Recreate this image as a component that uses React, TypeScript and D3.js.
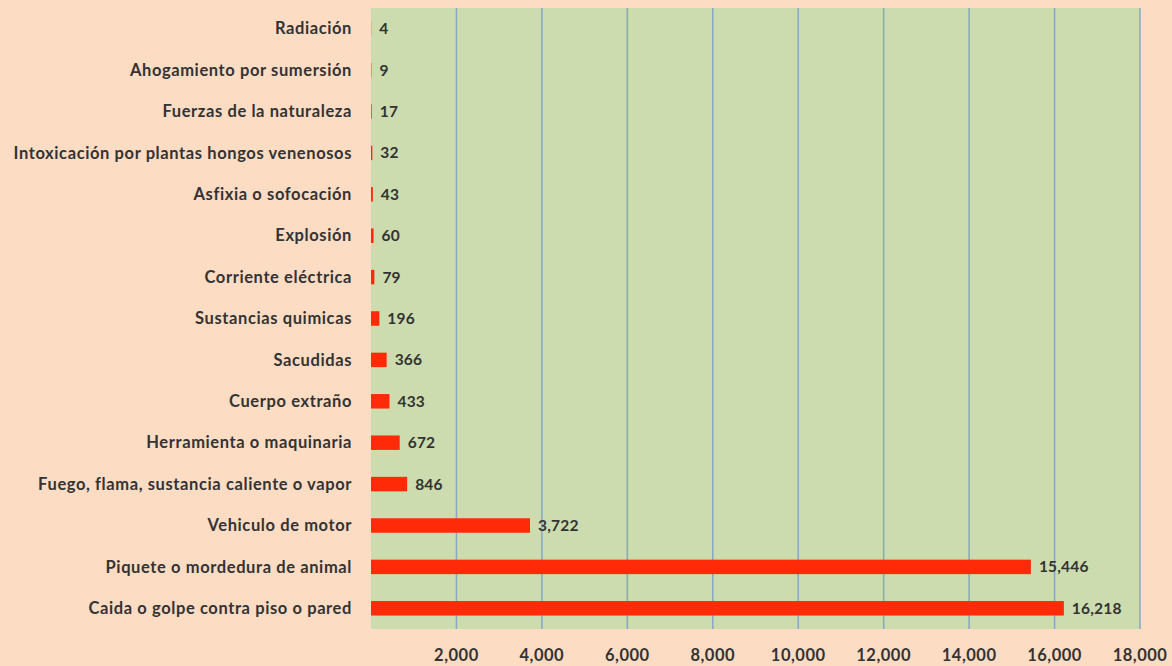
import * as d3 from 'd3';
import React from 'react';

// categories from top to bottom as shown
const categories = [
    'Radiación',
    'Ahogamiento por sumersión',
    'Fuerzas de la naturaleza',
    'Intoxicación por plantas hongos venenosos',
    'Asfixia o sofocación',
    'Explosión',
    'Corriente eléctrica',
    'Sustancias quimicas',
    'Sacudidas',
    'Cuerpo extraño',
    'Herramienta o maquinaria',
    'Fuego, flama, sustancia caliente o vapor',
    'Vehiculo de motor',
    'Piquete o mordedura de animal',
    'Caida o golpe contra piso o pared',
];

const values = [4, 9, 17, 32, 43, 60, 79, 196, 366, 433, 672, 846, 3722, 15446, 16218];

const tickValues = [2000, 4000, 6000, 8000, 10000, 12000, 14000, 16000, 18000];

const W = 1172;
const H = 666;
const margin = { top: 8, right: 32, bottom: 37, left: 371 };
const font = 'Lato, "Open Sans", sans-serif';

const App = () => {
    const x = d3.scaleLinear()
        .domain([0, 18000])
        .range([margin.left, W - margin.right]);
    const y = d3.scaleBand()
        .domain(categories)
        .range([margin.top, H - margin.bottom])
        .paddingInner(0.65)
        .paddingOuter(0.325);
    const fmt = d3.format(',');

    return (
        <svg width={W} height={H} style={{ position: 'absolute', left: 0, top: 0, display: 'block' }}>
            <rect x={0} y={0} width={W} height={H} fill="#fddcc4" />
            <rect x={x(0)} y={margin.top} width={x(18000) - x(0)} height={H - margin.bottom - margin.top} fill="#ccdcae" />
            {tickValues.map((t) => (
                <g key={t}>
                    <line x1={x(t)} x2={x(t)} y1={margin.top} y2={H - margin.bottom} stroke="#86a8c6" strokeWidth={1.5} />
                    <text x={x(t)} y={H - 5} textAnchor="middle" fontFamily={font} fontWeight="bold" fontSize={16.5} letterSpacing={0.5} fill="#333">{fmt(t)}</text>
                </g>
            ))}
            {categories.map((c, i) => {
                const yc = y(c)! + y.bandwidth() / 2;
                return (
                    <g key={c}>
                        <rect x={x(0)} y={y(c)} width={Math.max(x(values[i]) - x(0), 0)} height={y.bandwidth()} fill="#ff2a08" />
                        <text x={352} y={yc} dy="0.35em" textAnchor="end" fontFamily={font} fontWeight="bold" fontSize={16.5} letterSpacing={0.6} fill="#333">{c}</text>
                        <text x={x(values[i]) + 8} y={yc} dy="0.35em" fontFamily={font} fontWeight="bold" fontSize={15.5} letterSpacing={0.2} fill="#333">{fmt(values[i])}</text>
                    </g>
                );
            })}
        </svg>
    );
};

export default App;
